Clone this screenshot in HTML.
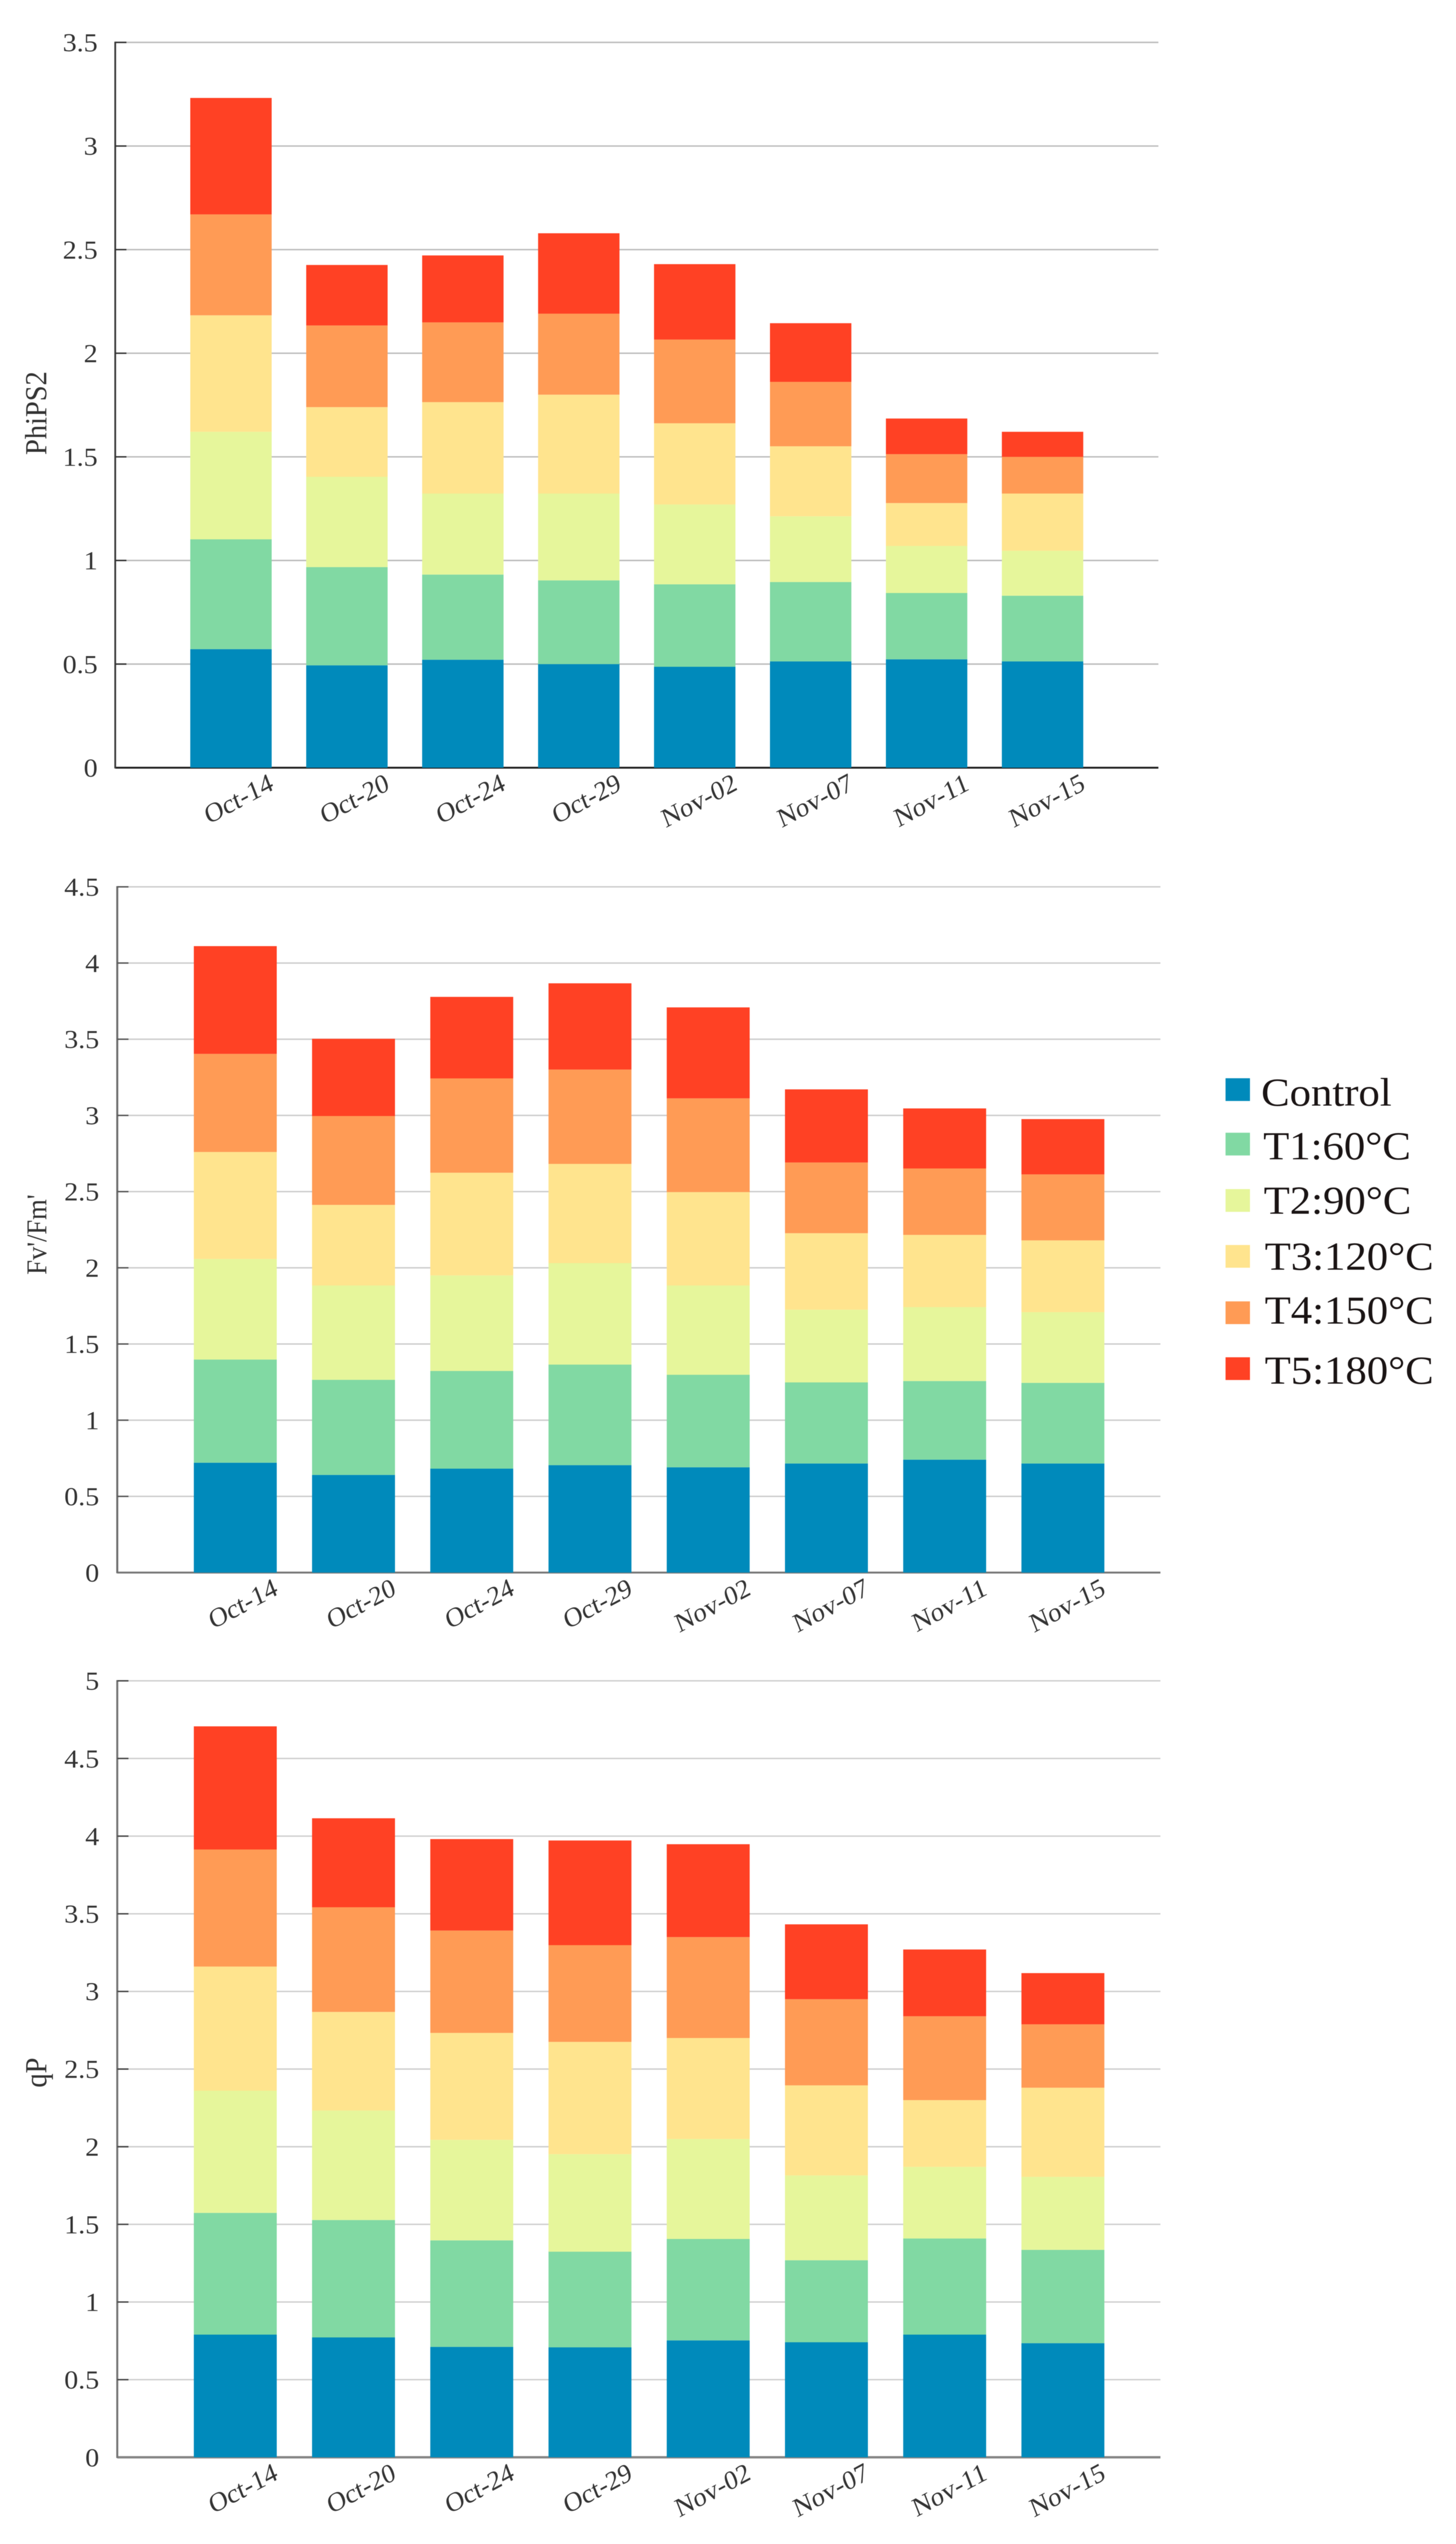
<!DOCTYPE html>
<html lang="en">
<head>
<meta charset="utf-8">
<title>Stacked bar charts of PhiPS2, Fv'/Fm' and qP</title>
<style>
  html, body { margin: 0; padding: 0; width: 100vw; height: 100vh; overflow: hidden; background: #ffffff; }
  #figure { display: block; position: absolute; left: 0; top: 0; width: 100vw; height: 100vh; overflow: hidden; filter: blur(0.6px); }
  text { font-family: "Liberation Serif", "Times New Roman", serif; }
</style>
</head>
<body>
<svg id="figure" xmlns="http://www.w3.org/2000/svg" viewBox="0 0 2862 5370" preserveAspectRatio="none">
  <rect x="0" y="0" width="2862" height="5370" fill="#ffffff"/>
  <g id="charts"></g>
  <g id="legend" font-size="84" fill="#1a1414">
    <g>
      <rect x="2409" y="2276" width="48" height="48" fill="#008abb"/>
      <text x="2479" y="2334">Control</text>
    </g>
    <g>
      <rect x="2409" y="2391" width="48" height="48" fill="#81d9a3"/>
      <text x="2483" y="2447">T1:60°C</text>
    </g>
    <g>
      <rect x="2409" y="2510" width="48" height="48" fill="#e6f69b"/>
      <text x="2484" y="2562">T2:90°C</text>
    </g>
    <g>
      <rect x="2409" y="2628" width="48" height="48" fill="#ffe48e"/>
      <text x="2486" y="2680">T3:120°C</text>
    </g>
    <g>
      <rect x="2409" y="2747" width="48" height="48" fill="#ff9b55"/>
      <text x="2486" y="2794">T4:150°C</text>
    </g>
    <g>
      <rect x="2409" y="2865" width="48" height="48" fill="#ff4124"/>
      <text x="2486" y="2921">T5:180°C</text>
    </g>
  </g>
</svg>
<script>
const categories = ['Oct-14', 'Oct-20', 'Oct-24', 'Oct-29', 'Nov-02', 'Nov-07', 'Nov-11', 'Nov-15'];
const seriesKeys = ['control', 't1', 't2', 't3', 't4', 't5'];
const seriesColors = ['#008abb', '#81d9a3', '#e6f69b', '#ffe48e', '#ff9b55', '#ff4124'];

const phiTicks = [0, 0.5, 1, 1.5, 2, 2.5, 3, 3.5];
const phiControl = [0.572, 0.494, 0.521, 0.500, 0.487, 0.513, 0.523, 0.513];
const phiT1 = [0.530, 0.474, 0.411, 0.404, 0.398, 0.383, 0.320, 0.317];
const phiT2 = [0.519, 0.436, 0.391, 0.419, 0.385, 0.317, 0.227, 0.217];
const phiT3 = [0.562, 0.336, 0.441, 0.477, 0.392, 0.338, 0.207, 0.276];
const phiT4 = [0.487, 0.394, 0.385, 0.391, 0.404, 0.311, 0.236, 0.177];
const phiT5 = [0.562, 0.292, 0.323, 0.388, 0.364, 0.283, 0.172, 0.121];

const fvTicks = [0, 0.5, 1, 1.5, 2, 2.5, 3, 3.5, 4, 4.5];
const fvControl = [0.721, 0.641, 0.682, 0.705, 0.691, 0.716, 0.741, 0.716];
const fvT1 = [0.677, 0.624, 0.641, 0.660, 0.607, 0.532, 0.516, 0.529];
const fvT2 = [0.660, 0.619, 0.627, 0.666, 0.586, 0.477, 0.485, 0.464];
const fvT3 = [0.702, 0.529, 0.674, 0.651, 0.613, 0.502, 0.474, 0.471];
const fvT4 = [0.644, 0.583, 0.619, 0.619, 0.615, 0.464, 0.436, 0.433];
const fvT5 = [0.707, 0.507, 0.535, 0.566, 0.597, 0.480, 0.394, 0.363];

const qpTicks = [0, 0.5, 1, 1.5, 2, 2.5, 3, 3.5, 4, 4.5, 5];
const qpControl = [0.790, 0.772, 0.711, 0.708, 0.753, 0.741, 0.790, 0.735];
const qpT1 = [0.784, 0.756, 0.686, 0.616, 0.653, 0.528, 0.619, 0.601];
const qpT2 = [0.787, 0.705, 0.647, 0.628, 0.644, 0.546, 0.461, 0.470];
const qpT3 = [0.799, 0.635, 0.689, 0.723, 0.650, 0.580, 0.430, 0.574];
const qpT4 = [0.754, 0.674, 0.659, 0.623, 0.650, 0.555, 0.540, 0.408];
const qpT5 = [0.793, 0.573, 0.589, 0.674, 0.598, 0.482, 0.430, 0.330];

const SVG_NS = 'http://www.w3.org/2000/svg';
const chartsRoot = document.getElementById('charts');

function shape(parent, tag, attrs) {
  const el = document.createElementNS(SVG_NS, tag);
  for (const key in attrs) el.setAttribute(key, attrs[key]);
  parent.appendChild(el);
  return el;
}

function drawChart(cfg) {
  const group = shape(chartsRoot, 'g', {});
  
  

  const axisMax = cfg.ticks[cfg.ticks.length - 1];
  const yScale = v => cfg.y0 - (v / axisMax) * (cfg.y0 - cfg.yTop);
  const xScale = i => cfg.firstBar + i * cfg.step;

  cfg.ticks.forEach(t => {
    const y = yScale(t);
    if (t !== 0) {
      const grid = shape(group, 'line', { x1: cfg.axisX, x2: cfg.right, y1: y, y2: y, stroke: cfg.gridColor, 'stroke-width': 3 });
      
      
    }
    const label = shape(group, 'text', { x: cfg.tickRight, y: y + 19, 'text-anchor': 'end', 'font-size': 55, fill: '#333333' });
    label.textContent = String(t);
    
    
  });

  const baseline = shape(group, 'line', { x1: cfg.axisX, x2: cfg.right, y1: cfg.y0, y2: cfg.y0, stroke: cfg.baseColor, 'stroke-width': cfg.baseWidth });
  
  

  categories.forEach((cat, i) => {
    let sum = 0;
    cfg.series.forEach((values, s) => {
      const top = yScale(sum + values[i]);
      const bottom = yScale(sum);
      const bar = shape(group, 'rect', { x: xScale(i), y: top, width: cfg.barW, height: bottom - top, fill: seriesColors[s] });
      
      
      sum += values[i];
    });
    const ex = xScale(i) + cfg.barW / 2 + 86;
    const ey = cfg.y0 + 45;
    const label = shape(group, 'text', { transform: 'translate(' + ex + ' ' + ey + ') rotate(-30) skewX(-10)', 'text-anchor': 'end', 'font-size': 54, fill: '#333333' });
    label.textContent = cat;
    
    
  });

  const axis = shape(group, 'line', { x1: cfg.axisX, x2: cfg.axisX, y1: cfg.yTop - 1.5, y2: cfg.y0 + 1.5, stroke: cfg.axisColor, 'stroke-width': cfg.axisWidth });
  
  

  cfg.ticks.forEach(t => {
    if (t === 0) return;
    const y = yScale(t);
    const mark = shape(group, 'line', { x1: cfg.axisX, x2: cfg.axisX + 22, y1: y, y2: y, stroke: cfg.tickColor, 'stroke-width': 3 });
    
    
  });

  const title = shape(group, 'text', { transform: 'translate(91 ' + cfg.titleY + ') rotate(-90)', 'text-anchor': 'middle', 'font-size': cfg.titleSize, fill: '#333333' });
  title.textContent = cfg.title;
  
  
}

drawChart({
  key: 'phips2', title: 'PhiPS2', titleY: 872, titleSize: 60,
  ticks: phiTicks, series: [phiControl, phiT1, phiT2, phiT3, phiT4, phiT5],
  y0: 1620.5, yTop: 89.5, axisX: 226.5, right: 2277, firstBar: 374, step: 227.9, barW: 160, tickRight: 192,
  gridColor: '#bcbcbc', baseColor: '#222222', baseWidth: 4, axisColor: '#3a3a3a', axisWidth: 3.5, tickColor: '#333333'
});
drawChart({
  key: 'fv-fm', title: "Fv'/Fm'", titleY: 2606, titleSize: 56,
  ticks: fvTicks, series: [fvControl, fvT1, fvT2, fvT3, fvT4, fvT5],
  y0: 3319.5, yTop: 1872, axisX: 230.5, right: 2281, firstBar: 381, step: 232.4, barW: 163, tickRight: 195,
  gridColor: '#cccccc', baseColor: '#777777', baseWidth: 4, axisColor: '#6f6f6f', axisWidth: 4, tickColor: '#555555'
});
drawChart({
  key: 'qp', title: 'qP', titleY: 4375, titleSize: 60,
  ticks: qpTicks, series: [qpControl, qpT1, qpT2, qpT3, qpT4, qpT5],
  y0: 5187, yTop: 3548, axisX: 230.5, right: 2281, firstBar: 381, step: 232.4, barW: 163, tickRight: 195,
  gridColor: '#cfcfcf', baseColor: '#858585', baseWidth: 5, axisColor: '#777777', axisWidth: 4, tickColor: '#444444'
});
</script>
</body>
</html>
